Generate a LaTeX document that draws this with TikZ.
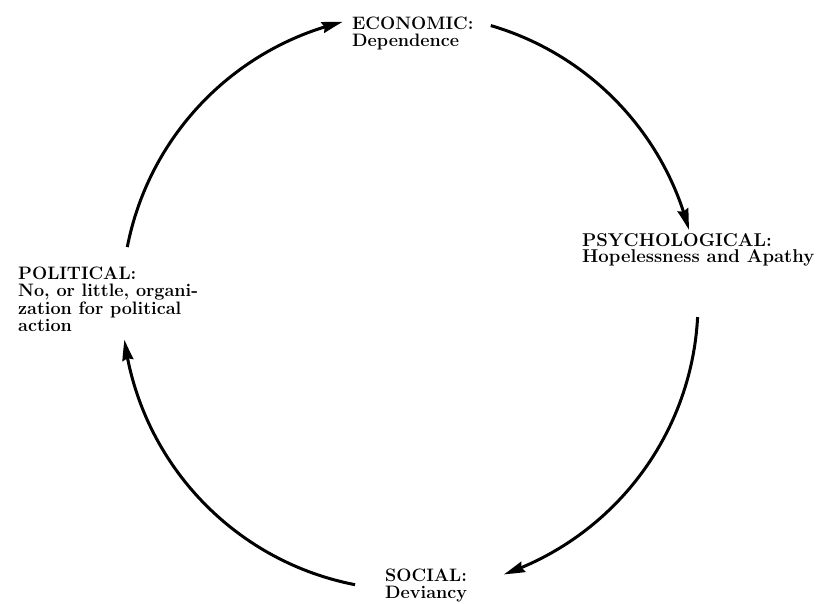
\documentclass[tikz,border=0pt]{standalone}
\usetikzlibrary{arrows.meta,bending}
\begin{document}
\begin{tikzpicture}[x=1pt,y=1pt,
  lbl/.style={anchor=base west,inner sep=0pt,align=left,
    font=\bfseries\fontsize{18}{17.5}\selectfont},
  cyc/.style={line width=3pt,-{Stealth[length=21pt,width=11pt,inset=2pt,bend]}}]
  \useasboundingbox (0,0) rectangle (822,604);
  % the four stages of the cycle (placed by the baseline of their last line)
  \node[lbl] (eco) at (352,557) {ECONOMIC:\\Dependence};
  \node[lbl,font=\bfseries\fontsize{18.5}{16.5}\selectfont] (psy) at (582,341)
    {PSYCHOLOGICAL:\\Hopelessness and Apathy};
  \node[lbl] (soc) at (385,5) {SOCIAL:\\Deviancy};
  \node[lbl] (pol) at (18,272)
    {POLITICAL:\\No, or little, organi-\\zation for political\\action};
  % points on the circle where the arcs start
  \coordinate (c) at (410,302);
  \coordinate (s1) at ([shift={(c)}]169:288);
  \coordinate (s2) at ([shift={(c)}]73.7:288);
  \coordinate (s3) at ([shift={(c)}]-3:288);
  \coordinate (s4) at ([shift={(c)}]-101:288);
  % arcs of the cycle, clockwise
  \draw[cyc] (s1) arc[start angle=169,end angle=103.5,radius=288];
  \draw[cyc] (s2) arc[start angle=73.7,end angle=14.5,radius=288];
  \draw[cyc] (s3) arc[start angle=-3,end angle=-71,radius=288];
  \draw[cyc] (s4) arc[start angle=-101,end angle=-172.5,radius=288];
\end{tikzpicture}
\end{document}
